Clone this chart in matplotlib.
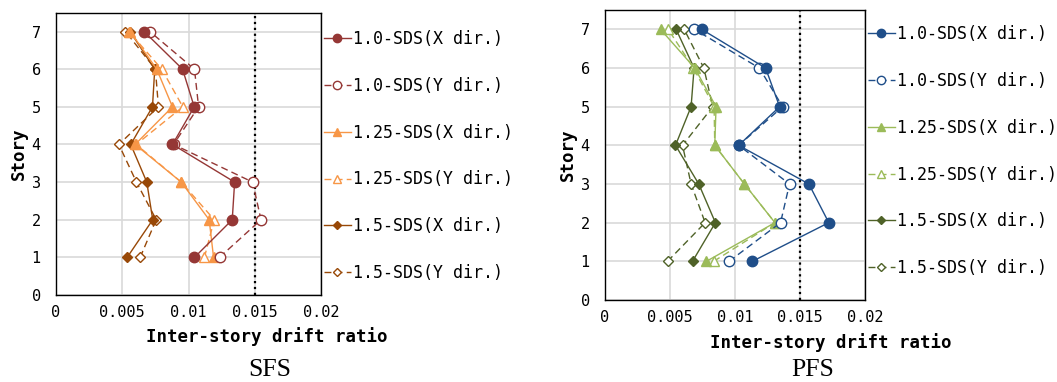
import numpy as np
import matplotlib
matplotlib.use('Agg')
import matplotlib.pyplot as plt

# story levels
stories = [1, 2, 3, 4, 5, 6, 7]

# SFS drift ratios (story 1..7)
sfs_10x = [0.01045, 0.0133, 0.01348, 0.00879, 0.01043, 0.00955, 0.00665]
sfs_10y = [0.01234, 0.01547, 0.01484, 0.00887, 0.01076, 0.01045, 0.00708]
sfs_125x = [0.01189, 0.01156, 0.00945, 0.00597, 0.00879, 0.0076, 0.0056]
sfs_125y = [0.0112, 0.01194, 0.00945, 0.00605, 0.00957, 0.00798, 0.0055]
sfs_15x = [0.00537, 0.0073, 0.00685, 0.00564, 0.00728, 0.00745, 0.00559]
sfs_15y = [0.00635, 0.00756, 0.00607, 0.00474, 0.00773, 0.0075, 0.00524]

# PFS drift ratios (story 1..7)
pfs_10x = [0.01133, 0.01721, 0.01568, 0.01028, 0.01343, 0.01235, 0.00744]
pfs_10y = [0.00954, 0.0135, 0.01419, 0.01028, 0.01366, 0.01187, 0.00688]
pfs_125x = [0.0078, 0.01307, 0.01072, 0.00844, 0.00854, 0.0069, 0.00427]
pfs_125y = [0.00836, 0.01307, 0.01072, 0.00844, 0.00839, 0.0068, 0.00486]
pfs_15x = [0.00673, 0.00849, 0.00721, 0.00542, 0.00662, 0.00685, 0.00547]
pfs_15y = [0.00481, 0.0077, 0.00662, 0.00596, 0.00829, 0.0076, 0.00609]

labels = ['1.0-SDS(X dir.)', '1.0-SDS(Y dir.)', '1.25-SDS(X dir.)',
          '1.25-SDS(Y dir.)', '1.5-SDS(X dir.)', '1.5-SDS(Y dir.)']
xticks = [0, 0.005, 0.01, 0.015, 0.02]
xticklabels = ['0', '0.005', '0.01', '0.015', '0.02']
limit = 0.015

mono = 'DejaVu Sans Mono'


def draw_panel(fig, rect, series, colors, name, xlab_pos, leg_anchor, title_pos):
    ax = fig.add_axes(rect)
    markers = ['o', 'o', '^', '^', 'D', 'D']
    sizes = [7.5, 7.5, 7, 7, 5.5, 5.5]
    for i, s in enumerate(series):
        c = colors[i // 2]
        filled = (i % 2 == 0)
        ax.plot(s, stories, color=c, lw=1.0,
                ls='-' if filled else (0, (5, 3)),
                marker=markers[i], ms=sizes[i], mew=1.0,
                mfc=c if filled else 'white', mec=c,
                label=labels[i], zorder=3 + (5 - i) * 0.1)
    ax.axvline(limit, color='black', ls=':', lw=1.6, zorder=2)
    ax.set_xlim(0, 0.02)
    ax.set_ylim(0, 7.5)
    ax.set_xticks(xticks)
    ax.set_xticklabels(xticklabels, fontfamily=mono, fontsize=11)
    ax.set_yticks(range(0, 8))
    ax.set_yticklabels([str(v) for v in range(0, 8)], fontfamily=mono, fontsize=11)
    ax.tick_params(length=0)
    ax.tick_params(axis='y', pad=11)
    ax.tick_params(axis='x', pad=7)
    ax.grid(True, color='#d9d9d9', lw=1.2, zorder=0)
    ax.set_axisbelow(True)
    for sp in ax.spines.values():
        sp.set_color('black')
        sp.set_linewidth(1.0)
    ax.set_xlabel('Inter-story drift ratio', fontfamily=mono, fontsize=12.5,
                  fontweight='bold', va='top')
    ax.xaxis.set_label_coords(xlab_pos, -0.115)
    ax.set_ylabel('Story', fontfamily=mono, fontsize=12.5, fontweight='bold')
    ax.yaxis.set_label_coords(-0.108, 0.5)
    ax.legend(loc='upper left', bbox_to_anchor=leg_anchor,
              bbox_transform=fig.transFigure, frameon=False,
              prop={'family': mono, 'size': 12}, labelspacing=1.73,
              handlelength=1.6, handletextpad=0.15, borderpad=0,
              borderaxespad=0, markerscale=0.8)
    fig.text(title_pos[0], title_pos[1], name, family='Liberation Serif',
             fontsize=18.5, ha='center', va='center')
    return ax


fig = plt.figure(figsize=(10.57, 3.82), dpi=100)

draw_panel(fig, [0.053, 0.2277, 0.2507, 0.739],
           [sfs_10x, sfs_10y, sfs_125x, sfs_125y, sfs_15x, sfs_15y],
           ['#953735', '#F79646', '#984807'], 'SFS', 0.796,
           (324 / 1057, 1 - 30 / 382), (270 / 1057, 1 - 370 / 382))

draw_panel(fig, [0.5724, 0.2147, 0.246, 0.759],
           [pfs_10x, pfs_10y, pfs_125x, pfs_125y, pfs_15x, pfs_15y],
           ['#1F4E89', '#9BBB59', '#4F6228'], 'PFS', 0.869,
           (868 / 1057, 1 - 25 / 382), (813 / 1057, 1 - 370 / 382))

fig.savefig('out.png', dpi=100)
